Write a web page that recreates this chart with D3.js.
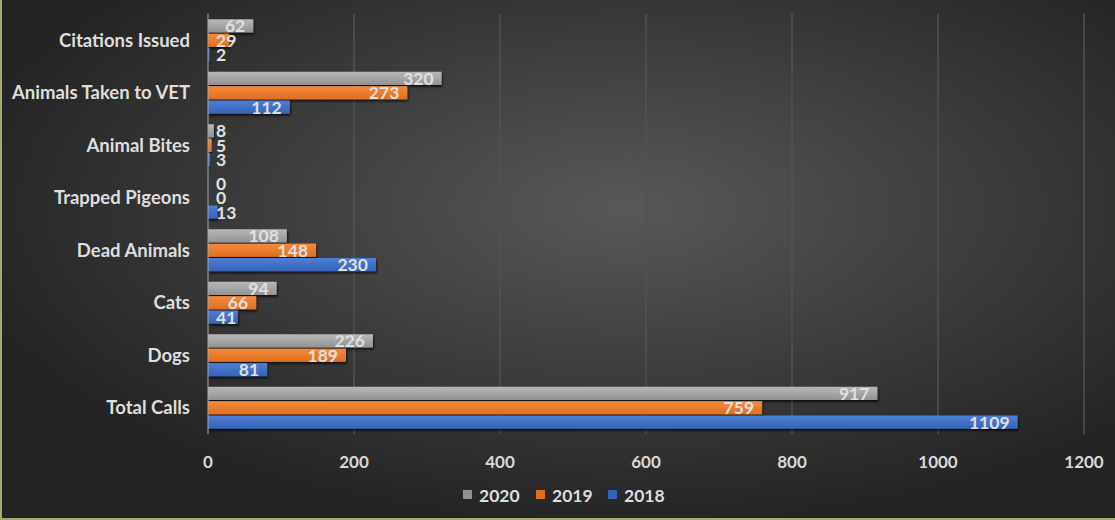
<!DOCTYPE html>
<html>
<head>
<meta charset="utf-8">
<script src="https://cdn.jsdelivr.net/npm/d3@7"></script>
<style>
  html, body { margin: 0; padding: 0; background: #2a2a2a; }
  #chart { width: 1115px; height: 520px; }
  text { font-family: Lato, "Open Sans", sans-serif; font-weight: bold; }
</style>
</head>
<body>
<div id="chart"></div>
<script>
// data, top to bottom as drawn
const categories = ["Citations Issued", "Animals Taken to VET", "Animal Bites", "Trapped Pigeons",
  "Dead Animals", "Cats", "Dogs", "Total Calls"];
const years = ["2020", "2019", "2018"];
const values2020 = [62, 320, 8, 0, 108, 94, 226, 917];
const values2019 = [29, 273, 5, 0, 148, 66, 189, 759];
const values2018 = [2, 112, 3, 13, 230, 41, 81, 1109];
const xTicks = [0, 200, 400, 600, 800, 1000, 1200];
const colors = {"2020": ["#b8b8b8", "#929292"], "2019": ["#f58a3c", "#e06e1f"], "2018": ["#4d7fd6", "#3563b8"]};

const seriesByYear = {"2020": values2020, "2019": values2019, "2018": values2018};

const width = 1115, height = 520;
const margin = {top: 14, left: 208, right: 31, bottom: 86};

const svg = d3.select("#chart").append("svg")
    .attr("width", width)
    .attr("height", height);

const defs = svg.append("defs");
const bg = defs.append("radialGradient").attr("id", "bg")
    .attr("cx", "56%").attr("cy", "40%").attr("r", "62%")
    .attr("gradientUnits", "objectBoundingBox");
bg.append("stop").attr("offset", "0%").attr("stop-color", "#585858");
bg.append("stop").attr("offset", "100%").attr("stop-color", "#232323");

years.forEach(y => {
  const g = defs.append("linearGradient").attr("id", "g" + y)
      .attr("x1", 0).attr("y1", 0).attr("x2", 0).attr("y2", 1);
  g.append("stop").attr("offset", "0%").attr("stop-color", colors[y][0]);
  g.append("stop").attr("offset", "100%").attr("stop-color", colors[y][1]);
});

const shadow = defs.append("filter").attr("id", "shadow")
    .attr("x", "-5%").attr("y", "-20%").attr("width", "110%").attr("height", "160%");
shadow.append("feDropShadow").attr("dx", 1).attr("dy", 2).attr("stdDeviation", 1)
    .attr("flood-color", "#000").attr("flood-opacity", 0.7);

svg.append("rect").attr("width", width).attr("height", height).attr("fill", "url(#bg)");

// olive frame on left and bottom
svg.append("rect").attr("x", 0).attr("y", 0).attr("width", 2).attr("height", height).attr("fill", "#a9a96c");
svg.append("rect").attr("x", 0).attr("y", height - 2).attr("width", width).attr("height", 2).attr("fill", "#a9a96c");

const x = d3.scaleLinear().domain([0, 1200]).range([margin.left, width - margin.right]);
const y = d3.scaleBand().domain(categories).range([margin.top, height - margin.bottom]).paddingInner(0.2).paddingOuter(0.1);
const ySub = d3.scaleBand().domain(years).range([0, y.bandwidth()]).paddingInner(0.08);

// gridlines
svg.append("g")
  .selectAll("line")
  .data(xTicks.filter(t => t > 0))
  .join("line")
    .attr("x1", d => x(d)).attr("x2", d => x(d))
    .attr("y1", margin.top).attr("y2", height - margin.bottom)
    .attr("stroke", "#525252").attr("stroke-width", 1.5);

// bars
const groups = svg.append("g").selectAll("g")
  .data(categories)
  .join("g")
    .attr("transform", d => `translate(0,${y(d)})`);

const bars = groups.selectAll("g")
  .data((c, i) => years.map(yr => ({cat: c, year: yr, value: seriesByYear[yr][i]})))
  .join("g");

bars.append("rect")
    .attr("x", x(0))
    .attr("y", d => ySub(d.year))
    .attr("width", d => x(d.value) - x(0))
    .attr("height", ySub.bandwidth())
    .attr("fill", d => "url(#g" + d.year + ")")
    .attr("filter", "url(#shadow)");

bars.append("text")
    .text(d => d.value)
    .attr("y", d => ySub(d.year) + ySub.bandwidth() / 2 + 6.5)
    .attr("font-size", 17.5)
    .attr("fill", "#e0e0e0")
    .each(function(d) {
      const t = d3.select(this);
      const w = this.getComputedTextLength();
      const barW = x(d.value) - x(0);
      if (barW > w + 14) {
        t.attr("x", x(d.value) - 8).attr("text-anchor", "end");
      } else {
        t.attr("x", x(0) + 8).attr("text-anchor", "start");
      }
    });

// y axis line
svg.append("line")
    .attr("x1", x(0)).attr("x2", x(0))
    .attr("y1", margin.top).attr("y2", height - margin.bottom)
    .attr("stroke", "#a8a8a8").attr("stroke-width", 1);

// category labels
svg.append("g").selectAll("text")
  .data(categories)
  .join("text")
    .attr("x", 190)
    .attr("y", d => y(d) + y.bandwidth() / 2 + 6.5)
    .attr("text-anchor", "end")
    .attr("font-size", 18.5)
    .attr("fill", "#dedede")
    .text(d => d);

// x tick labels
svg.append("g").selectAll("text")
  .data(xTicks)
  .join("text")
    .attr("x", d => x(d))
    .attr("y", 468)
    .attr("text-anchor", "middle")
    .attr("font-size", 17)
    .attr("fill", "#d8d8d8")
    .text(d => d);

// legend
const legendX = [463, 536, 608];
const legend = svg.append("g").selectAll("g")
  .data(years)
  .join("g")
    .attr("transform", (d, i) => `translate(${legendX[i]},495)`);
legend.append("rect")
    .attr("x", 0).attr("y", -5).attr("width", 9).attr("height", 9)
    .attr("fill", d => colors[d][1]);
legend.append("text")
    .attr("x", 16).attr("y", 6.5)
    .attr("font-size", 17.5)
    .attr("fill", "#dedede")
    .text(d => d);
</script>
</body>
</html>
